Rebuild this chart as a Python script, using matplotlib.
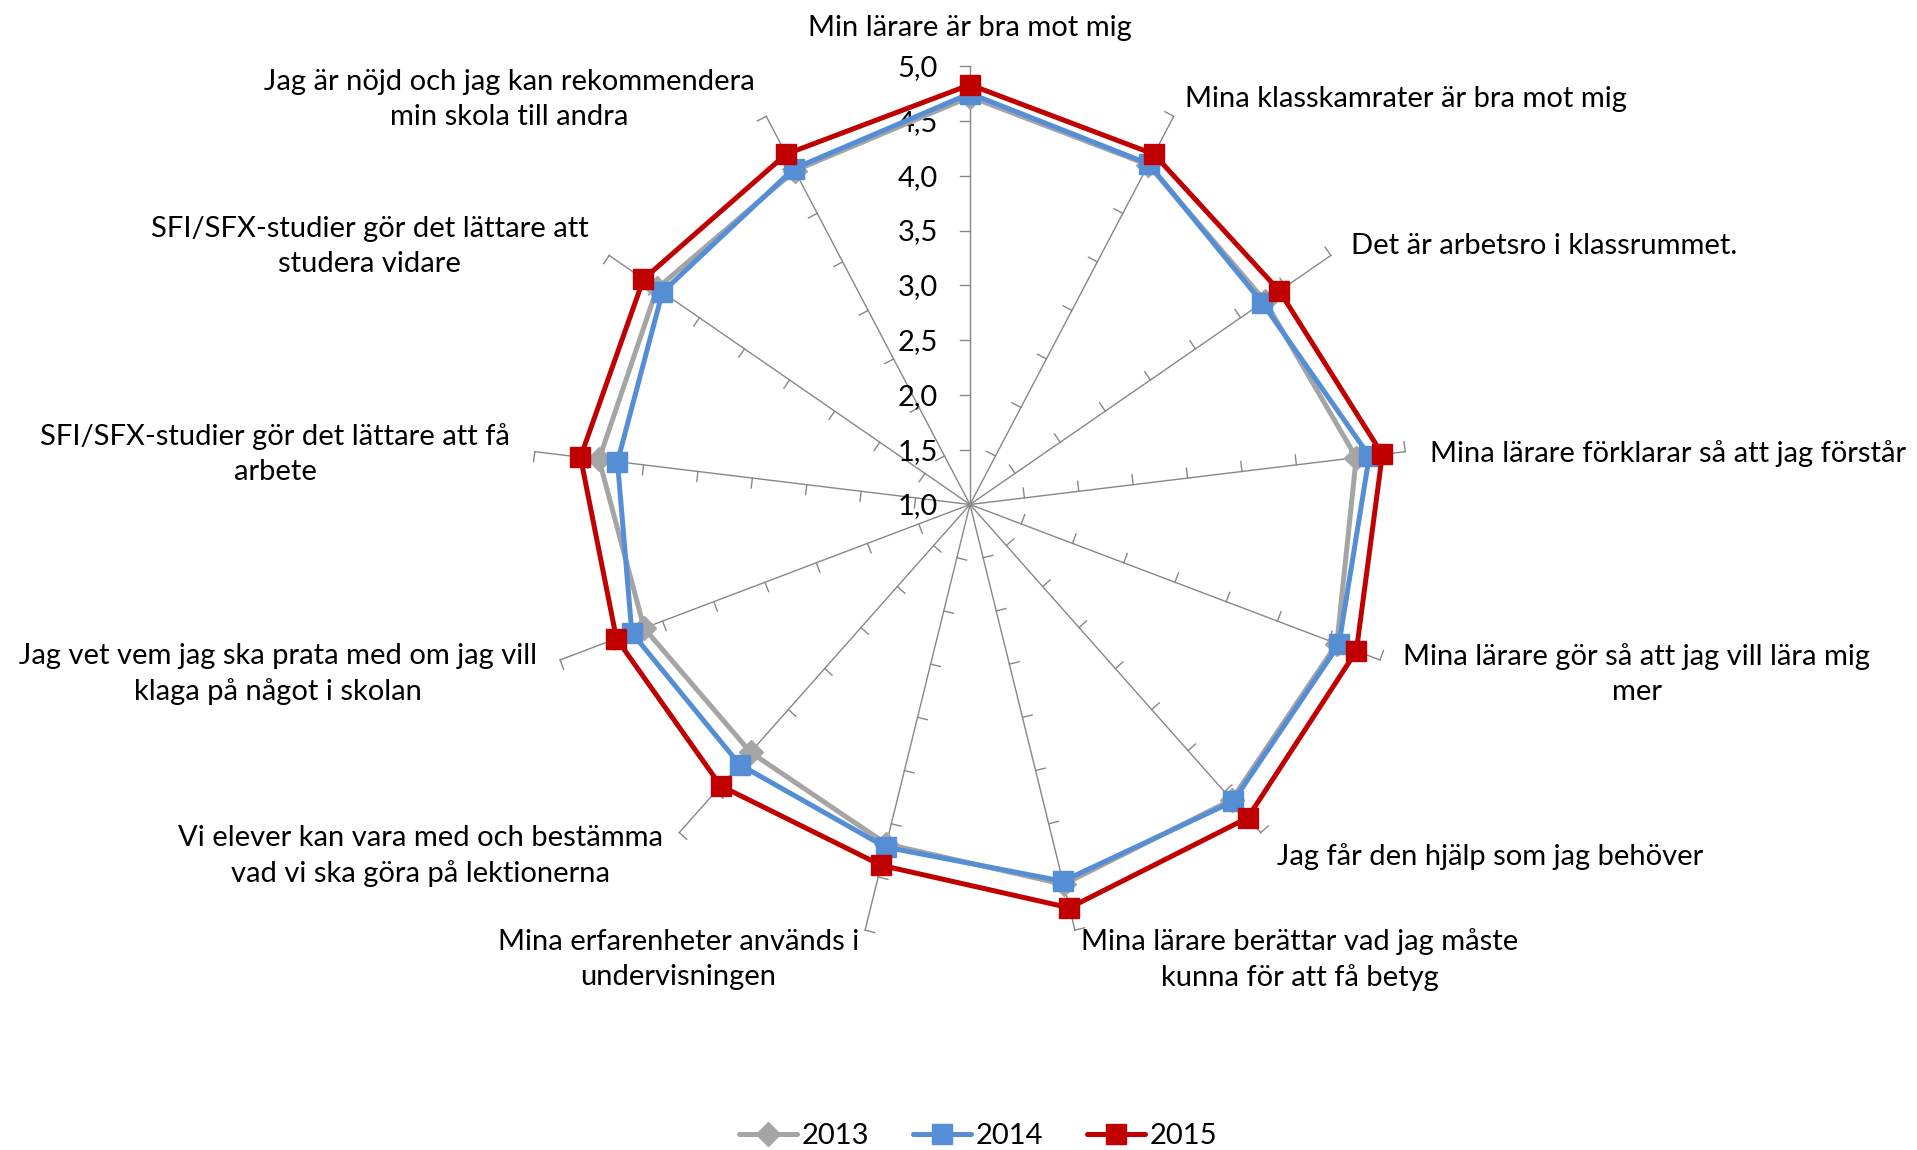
import matplotlib
matplotlib.use("Agg")
import matplotlib.pyplot as plt
import numpy as np

plt.rcParams['font.family'] = ['Lato', 'DejaVu Sans']

categories = [
    "Min lärare är bra mot mig",
    "Mina klasskamrater är bra mot mig",
    "Det är arbetsro i klassrummet.",
    "Mina lärare förklarar så att jag förstår",
    "Mina lärare gör så att jag vill lära mig\nmer",
    "Jag får den hjälp som jag behöver",
    "Mina lärare berättar vad jag måste\nkunna för att få betyg",
    "Mina erfarenheter används i\nundervisningen",
    "Vi elever kan vara med och bestämma\nvad vi ska göra på lektionerna",
    "Jag vet vem jag ska prata med om jag vill\nklaga på något i skolan",
    "SFI/SFX-studier gör det lättare att få\narbete",
    "SFI/SFX-studier gör det lättare att\nstudera vidare",
    "Jag är nöjd och jag kan rekommendera\nmin skola till andra",
]

v2013 = [4.72, 4.50, 4.27, 4.55, 4.58, 4.60, 4.57, 4.19, 4.02, 4.18, 4.41, 4.47, 4.44]
v2014 = [4.75, 4.51, 4.24, 4.67, 4.60, 4.62, 4.54, 4.22, 4.17, 4.30, 4.24, 4.41, 4.46]
v2015 = [4.83, 4.61, 4.43, 4.79, 4.77, 4.82, 4.79, 4.39, 4.43, 4.45, 4.58, 4.62, 4.61]

r_ticks = [1.0, 1.5, 2.0, 2.5, 3.0, 3.5, 4.0, 4.5, 5.0]
r_min, r_max = 1.0, 5.0

# pixel geometry of the original
W, H = 1917, 1150
cx, cy = 970, 504.5
ppu = 109.6  # pixels per unit

fig = plt.figure(figsize=(W / 100, H / 100), dpi=100)
ax = fig.add_axes([0, 0, 1, 1])
ax.set_xlim(-cx / ppu, (W - cx) / ppu)
ax.set_ylim(-(H - cy) / ppu, cy / ppu)
ax.set_aspect('equal')
ax.axis('off')

n = len(categories)
theta = np.arange(n) * 2 * np.pi / n


def xy(r, th):
    rr = np.asarray(r) - r_min
    return rr * np.sin(th), rr * np.cos(th)


# spokes with tick marks on one side
spoke_col = "#878787"
tick_len = 10 / ppu
for th in theta:
    x1, y1 = xy(r_max, th)
    ax.plot([0, x1], [0, y1], color=spoke_col, lw=1.0, zorder=1)
    nx, ny = -np.cos(th), np.sin(th)
    for t in r_ticks[1:]:
        tx, ty = xy(t, th)
        ax.plot([tx, tx + nx * tick_len], [ty, ty + ny * tick_len],
                color=spoke_col, lw=1.0, zorder=1)

# radial labels
for t in r_ticks:
    ax.text(-32 / ppu, t - r_min - 2 / ppu, f"{t:.1f}".replace('.', ','),
            ha='right', va='center', fontsize=21, color='black')

# category labels
off = 25 / ppu
drop = 5 / ppu
for lab, th in zip(categories, theta):
    s = np.sin(th)
    x, y = xy(r_max + off, th)
    if abs(s) < 0.01:
        ha = 'center'
        va = 'bottom'
        dy = 0
    else:
        ha = 'left' if s > 0 else 'right'
        va = 'center'
        dy = drop
    ax.text(x, y - dy, lab, ha=ha, va=va, fontsize=21,
            multialignment='center', linespacing=1.42, color='black')

series = [
    ("2013", v2013, "#A5A5A5", "D", 12),
    ("2014", v2014, "#558ED5", "s", 14),
    ("2015", v2015, "#C00000", "s", 15),
]
for name, vals, col, mk, ms in series:
    v = np.array(vals + vals[:1])
    th = np.append(theta, theta[0])
    x, y = xy(v, th)
    ax.plot(x, y, color=col, lw=3.6, marker=mk, markersize=ms,
            markevery=list(range(n)), label=name, zorder=3,
            solid_joinstyle='miter', solid_capstyle='round')

fig.legend(loc='center', bbox_to_anchor=(978 / W, 1 - 1136 / H), ncol=3,
           frameon=False, fontsize=21, handlelength=2.0, handletextpad=0.15,
           columnspacing=1.5)

fig.savefig("out.png", dpi=100)
